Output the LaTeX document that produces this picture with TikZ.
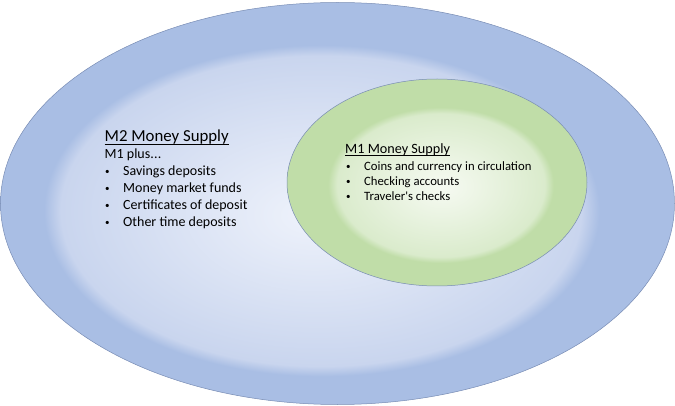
\documentclass[tikz,border=0pt]{standalone}
\usepackage{fontspec}
\setmainfont{Carlito}[Ligatures=TeXOff]
\usetikzlibrary{shapes.geometric}
\definecolor{bandblue}{RGB}{169,190,228}
\definecolor{midblue}{RGB}{201,213,238}
\definecolor{ctrblue}{RGB}{238,242,251}
\definecolor{bandgreen}{RGB}{192,221,168}
\definecolor{midgreen}{RGB}{218,235,204}
\definecolor{ctrgreen}{RGB}{246,250,242}
\definecolor{edgeline}{RGB}{120,140,180}
\pgfdeclareradialshading{outerS}{\pgfpoint{-2bp}{-1.5bp}}{color(0bp)=(ctrblue);color(19.3bp)=(midblue);color(20.6bp)=(bandblue);color(50bp)=(bandblue)}
\pgfdeclareradialshading{innerS}{\pgfpoint{1bp}{-1bp}}{color(0bp)=(ctrgreen);color(17.3bp)=(midgreen);color(18.8bp)=(bandgreen);color(50bp)=(bandgreen)}
\newcommand{\bul}[1]{\raisebox{#1}{\fontsize{9}{9}\selectfont •}}
\tikzset{
  blob/.style={ellipse, inner sep=0pt, draw=edgeline, line width=0.5pt},
  bigtxt/.style={anchor=base west, inner sep=0pt, font=\fontsize{14}{16}\selectfont},
  bighead/.style={anchor=base west, inner sep=0pt, font=\fontsize{16.8}{19}\selectfont},
  smalltxt/.style={anchor=base west, inner sep=0pt, font=\fontsize{12.7}{15}\selectfont},
  smallhead/.style={anchor=base west, inner sep=0pt, font=\fontsize{14.2}{16}\selectfont},
  uline/.style={line width=0.8pt, black},
}
\begin{document}
\begin{tikzpicture}[x=1pt,y=-1pt]
\useasboundingbox (0,0) rectangle (675,406);
\node[blob, shading=outerS, minimum width=674pt, minimum height=402pt] (outer) at (337.5,203.5) {};
\node[blob, shading=innerS, minimum width=300pt, minimum height=207pt] (inner) at (437,182.5) {};
% M2 text
\node[bighead] (m2h) at (104.5,142) {M2 Money Supply};
\draw[uline] ([yshift=-2pt]m2h.base west) -- ([yshift=-2pt]m2h.base east);
\node[bigtxt] (m2p) at (104.5,159) {M1 plus.\kern0.3pt.\kern0.3pt.};
\node[bigtxt] (b1) at (105,176) {\bul{1.5pt}};
\node[bigtxt] (t1) at (123,176) {Savings deposits};
\node[bigtxt] (b2) at (105,193) {\bul{1.5pt}};
\node[bigtxt] (t2) at (123,193) {Money market funds};
\node[bigtxt] (b3) at (105,210) {\bul{1.5pt}};
\node[bigtxt] (t3) at (123,210) {Certificates of deposit};
\node[bigtxt] (b4) at (105,227) {\bul{1.5pt}};
\node[bigtxt] (t4) at (123,227) {Other time deposits};
% M1 text
\node[smallhead] (m1h) at (345,154) {M1 Money Supply};
\draw[uline, line width=0.7pt] ([yshift=-1.8pt]m1h.base west) -- ([yshift=-1.8pt]m1h.base east);
\node[smalltxt] (c1) at (346,170.5) {\bul{1pt}};
\node[smalltxt] (s1) at (364,170.5) {Coins and currency in circulation};
\node[smalltxt] (c2) at (346,185.5) {\bul{1pt}};
\node[smalltxt] (s2) at (364,185.5) {Checking accounts};
\node[smalltxt] (c3) at (346,200.5) {\bul{1pt}};
\node[smalltxt] (s3) at (364,200.5) {Traveler's checks};
\end{tikzpicture}
\end{document}
